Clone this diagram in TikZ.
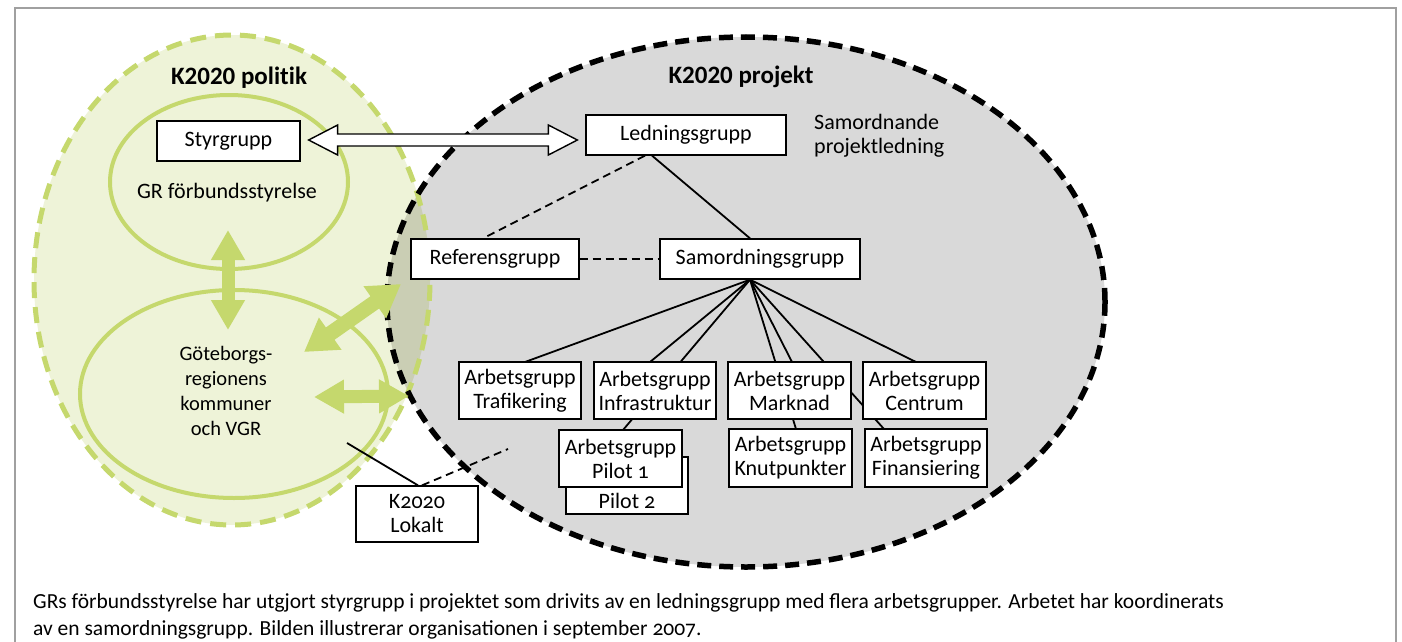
\documentclass[tikz,border=0pt]{standalone}
\usepackage{fontspec}
\setmainfont{Carlito}[Numbers=OldStyle]
\newfontfamily\titlefont{Carlito}[Numbers=Lining, Ligatures=NoCommon]
\usetikzlibrary{arrows.meta,calc}
\definecolor{lightgreen}{HTML}{EEF3D8}
\definecolor{midgreen}{HTML}{C5D86D}
\definecolor{projgray}{HTML}{D9D9D9}
\definecolor{overlapc}{HTML}{CACEB4}
\definecolor{framegray}{HTML}{A0A0A0}
\tikzset{
  box/.style={draw=black, line width=1.3pt, fill=white, align=center, inner sep=0pt,
     font=\fontsize{22}{24}\selectfont},
  conn/.style={line width=1.8pt, black},
  dconn/.style={line width=1.8pt, black, dash pattern=on 8pt off 5pt},
  greenarrow/.style={line width=13pt, midgreen,
     {Triangle[width=32pt,length=30pt]}-{Triangle[width=32pt,length=30pt]}},
  bigtitle/.style={font=\titlefont\bfseries\fontsize{25}{28}\selectfont},
  plain/.style={font=\fontsize{22}{24}\selectfont, align=center, inner sep=0pt},
  captxt/.style={font=\fontsize{21.5}{24}\selectfont, anchor=west, inner sep=0pt},
}
\begin{document}
\begin{tikzpicture}[x=1pt,y=-1pt]
\useasboundingbox (0,0) rectangle (1402,642);
% frame
\draw[framegray, line width=2pt, fill=white] (15,8) rectangle (1396,660);
% ellipses fills
\fill[lightgreen] (232,280) ellipse [x radius=198pt, y radius=245pt];
\fill[projgray] (746,302) ellipse [x radius=359pt, y radius=265pt];
\begin{scope}
  \clip (232,280) ellipse [x radius=198pt, y radius=245pt];
  \fill[overlapc] (746,302) ellipse [x radius=359pt, y radius=265pt];
\end{scope}
% inner ellipses
\draw[midgreen, line width=4pt] (229,182) ellipse [x radius=119pt, y radius=87pt];
\draw[midgreen, line width=4pt] (234,394) ellipse [x radius=154pt, y radius=104pt];
% outer dashed borders
\draw[midgreen, line width=5pt, dash pattern=on 16pt off 9pt] (232,280) ellipse [x radius=198pt, y radius=245pt];
\draw[black, line width=5.5pt, dash pattern=on 14pt off 8pt] (746,302) ellipse [x radius=359pt, y radius=265pt];

% titles
\node[bigtitle] (tpol) at (239,78) {K2020 politik};
\node[bigtitle] (tproj) at (741,77) {K2020 projekt};

% top boxes
\node[box, minimum width=143pt, minimum height=40pt] (sty) at (228.5,141) {Styrgrupp};
\node[box, minimum width=200pt, minimum height=40pt] (led) at (686,135) {Ledningsgrupp};
\node[box, minimum width=168pt, minimum height=40pt] (ref) at (495,259) {Referensgrupp};
\node[box, minimum width=200pt, minimum height=40pt] (sam) at (760,259) {Samordningsgrupp};

% working-group boxes: coordinates first, lines drawn, then boxes on top
\coordinate (fan) at ($(sam.south)+(-10,0)$);
\coordinate (traN) at (525,362);
\coordinate (infN) at (650,362);
\coordinate (pilN) at (623,430);
\coordinate (marN) at (792,362);
\coordinate (knuN) at (796,429);
\coordinate (finN) at (884,429);
\coordinate (cenN) at (916,362);
\draw[conn] (fan) -- (traN);
\draw[conn] (fan) -- (infN);
\draw[conn] (fan) -- (pilN);
\draw[conn] (fan) -- (marN);
\draw[conn] (fan) -- (knuN);
\draw[conn] (fan) -- (finN);
\draw[conn] (fan) -- (cenN);

\node[box, minimum width=122pt, minimum height=57pt] (pil2) at (627,485.5) {};
\node[plain] (pil2t) at ($(pil2.south)+(0,-14)$) {Pilot 2};
\node[box, minimum width=123pt, minimum height=57pt] (pil1) at (620.5,458.5) {Arbetsgrupp\\Pilot 1};
\node[box, minimum width=122pt, minimum height=57pt] (tra) at (520,390.5) {Arbetsgrupp\\Trafikering};
\node[box, minimum width=122pt, minimum height=57pt] (inf) at (655,390.5) {Arbetsgrupp\\Infrastruktur};
\node[box, minimum width=123pt, minimum height=57pt] (mar) at (789.5,390.5) {Arbetsgrupp\\Marknad};
\node[box, minimum width=123pt, minimum height=57pt] (cen) at (924.5,390.5) {Arbetsgrupp\\Centrum};
\node[box, minimum width=123pt, minimum height=58pt] (knu) at (790.5,458) {Arbetsgrupp\\Knutpunkter};
\node[box, minimum width=122pt, minimum height=58pt] (fin) at (926,458) {Arbetsgrupp\\Finansiering};

% Ledningsgrupp links
\draw[conn] ($(led.south)+(-34,0)$) -- ($(sam.north)+(-10,0)$);
\draw[dconn] ($(led.south)+(-41,0)$) -- ($(ref.north)+(-12,0)$);
\draw[dconn] (ref.east) -- (sam.west);

% K2020 Lokalt
\node[box, minimum width=122pt, minimum height=56pt] (lok) at (417,514) {K2020\\Lokalt};
\coordinate (lokA) at (347,443);
\coordinate (lokB) at (508,449);
\draw[conn] (lokA) -- ($(lok.north)+(1,0)$);
\draw[dconn] ($(lok.north)+(5,0)$) -- (lokB);

% white double arrow Styrgrupp <-> Ledningsgrupp
\coordinate (wa) at ($(sty.east)+(8,-1)$);
\coordinate (wb) at ($(led.west)+(-8,5)$);
\draw[black, line width=1.4pt, fill=white, line join=miter]
  (wa) -- ++(29,-15) -- ++(0,9) -- ($(wb)+(-29,-6)$) -- ++(0,-9) -- (wb)
  -- ++(-29,15) -- ++(0,-9) -- ($(wa)+(29,6)$) -- ++(0,9) -- cycle;

% green arrows
\coordinate (gv1) at (228,230);
\coordinate (gv2) at (228,330);
\draw[greenarrow] (gv1) -- (gv2);
\coordinate (gd1) at (304,352);
\coordinate (gd2) at (401,284);
\draw[greenarrow, line width=15pt, {Triangle[width=37pt,length=32pt]}-{Triangle[width=37pt,length=32pt]}] (gd1) -- (gd2);
\coordinate (gh1) at (314,397);
\coordinate (gh2) at (409,396);
\draw[greenarrow] (gh1) -- (gh2);

% texts
\node[plain] (grf) at (227,193) {GR förbundsstyrelse};
\node[plain, font=\fontsize{20.5}{25}\selectfont] (gbg) at (226,391) {Göteborgs-\\regionens\\kommuner\\och VGR};
\node[plain, align=left, anchor=north west] (spl) at (814,114) {Samordnande\\projektledning};

% caption
\node[captxt] (cap1) at (33,603) {GRs förbundsstyrelse har utgjort styrgrupp i projektet som drivits av en ledningsgrupp med flera arbetsgrupper. Arbetet har koordinerats};
\node[captxt] (cap2) at (33,630) {av en samordningsgrupp. Bilden illustrerar organisationen i september 2007.};
\end{tikzpicture}
\end{document}
